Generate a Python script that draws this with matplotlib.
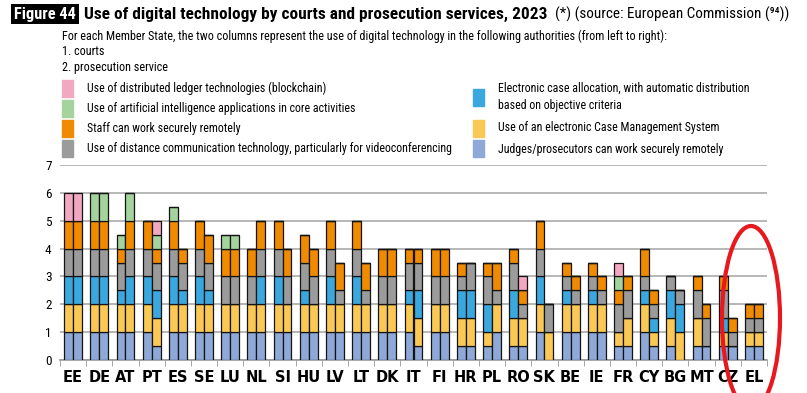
import numpy as np
import matplotlib.pyplot as plt
from matplotlib import font_manager
from matplotlib.patches import Rectangle, Ellipse

# 选一个窄一点的字体（参考图用的是窄体）
names = {f.name for f in font_manager.fontManager.ttflist}
NARROW = next((n for n in ['Roboto Condensed', 'Liberation Sans Narrow', 'DejaVu Sans Condensed',
                           'Open Sans Condensed', 'Roboto'] if n in names), 'DejaVu Sans')
plt.rcParams['font.family'] = [NARROW, 'DejaVu Sans']

# ============================================================
# 数据
# ============================================================
countries = ['EE', 'DE', 'AT', 'PT', 'ES', 'SE', 'LU', 'NL', 'SI', 'HU', 'LV', 'LT', 'DK', 'IT',
             'FI', 'HR', 'PL', 'RO', 'SK', 'BE', 'IE', 'FR', 'CY', 'BG', 'MT', 'CZ', 'EL']

# 1. courts
judges_c = [1, 1, 1, 1, 1, 1, 1, 1, 1, 1, 1, 1, 1, 1, 1, 0.5, 0.5, 0.5, 1, 1, 1, 0.5, 1, 0.5, 0.5, 0.5, 0.5]
cms_c = [1, 1, 1, 1, 1, 1, 1, 1, 1, 1, 1, 1, 1, 1, 1, 1, 0.5, 1, 1, 1, 1, 0.5, 1, 1, 1, 0.5, 0.5]
alloc_c = [1, 1, 0.5, 1, 1, 1, 0, 0, 1, 0.5, 1, 1, 0, 0.5, 0, 1, 1, 1, 1, 0.5, 0.5, 0, 0.5, 1, 0, 0.5, 0]
video_c = [1, 1, 1, 1, 1, 1, 1, 1, 1, 1, 1, 1, 1, 1, 1, 0.5, 1, 1, 1, 0.5, 0.5, 1, 0.5, 0.5, 1, 1, 0.5]
staff_c = [1, 1, 0.5, 1, 1, 1, 1, 1, 1, 1, 1, 1, 1, 0.5, 1, 0.5, 0.5, 0.5, 1, 0.5, 0.5, 0.5, 1, 0, 0.5, 0.5, 0.5]
ai_c = [0, 1, 0.5, 0, 0.5, 0, 0.5, 0, 0, 0, 0, 0, 0, 0, 0, 0, 0, 0, 0, 0, 0, 0.5, 0, 0, 0, 0, 0]
chain_c = [1, 0, 0, 0, 0, 0, 0, 0, 0, 0, 0, 0, 0, 0, 0, 0, 0, 0, 0, 0, 0, 0.5, 0, 0, 0, 0, 0]

# 2. prosecution service
judges_p = [1, 1, 1, 0.5, 1, 1, 1, 1, 1, 1, 1, 1, 1, 0.5, 1, 0.5, 1, 0.5, 0, 1, 1, 0.5, 0.5, 0, 0.5, 0.5, 0.5]
cms_p = [1, 1, 1, 1, 1, 1, 1, 1, 1, 1, 1, 1, 1, 1, 1, 1, 1, 1, 1, 1, 1, 1, 0.5, 1, 0, 0, 0.5]
alloc_p = [1, 1, 1, 1, 0.5, 0.5, 0, 1, 0, 0, 0, 0, 0, 1, 0, 1, 0, 0, 0, 0, 0, 0, 0.5, 1, 0, 0, 0]
video_p = [1, 1, 1, 1, 1, 1, 1, 1, 1, 1, 0.5, 0.5, 1, 1, 1, 1, 0.5, 0.5, 1, 0.5, 0.5, 1, 0.5, 0.5, 1, 0.5, 0.5]
staff_p = [1, 1, 1, 0.5, 0.5, 1, 1, 1, 1, 1, 1, 1, 1, 0.5, 1, 0, 1, 0.5, 0, 0.5, 0.5, 0.5, 0.5, 0, 0.5, 0.5, 0.5]
ai_p = [0, 1, 1, 0.5, 0, 0, 0.5, 0, 0, 0, 0, 0, 0, 0, 0, 0, 0, 0, 0, 0, 0, 0, 0, 0, 0, 0, 0]
chain_p = [1, 0, 0, 0.5, 0, 0, 0, 0, 0, 0, 0, 0, 0, 0, 0, 0, 0, 0.5, 0, 0, 0, 0, 0, 0, 0, 0, 0]

labels = ['Judges/prosecutors can work securely remotely',
          'Use of an electronic Case Management System',
          'Electronic case allocation, with automatic distribution\nbased on objective criteria',
          'Use of distance communication technology, particularly for videoconferencing',
          'Staff can work securely remotely',
          'Use of artificial intelligence applications in core activities',
          'Use of distributed ledger technologies (blockchain)']
colors = ['#8EA8D8', '#FAC854', '#3AA8DE', '#9B9B9B', '#F08A00', '#A5D39E', '#F3A8C2']

courts = [judges_c, cms_c, alloc_c, video_c, staff_c, ai_c, chain_c]
prosec = [judges_p, cms_p, alloc_p, video_p, staff_p, ai_p, chain_p]

# ============================================================
# 画图
# ============================================================
W, H = 807, 393
fig = plt.figure(figsize=(W / 100, H / 100), dpi=100)
ax = fig.add_axes([60 / W, 1 - 360 / H, 707 / W, 195 / H])

x = np.arange(len(countries))
bw = 0.34
for series, off in ((courts, -bw / 2), (prosec, bw / 2)):
    bottom = np.zeros(len(countries))
    for vals, col in zip(series, colors):
        v = np.array(vals, dtype=float)
        ax.bar(x + off, v, bw, bottom=bottom, color=col, edgecolor='#141414', linewidth=0.9, zorder=3)
        bottom += v

ax.set_xlim(-0.5, len(countries) - 0.5)
ax.set_ylim(0, 7)
ax.set_yticks(range(8))
ax.tick_params(axis='y', length=0, labelsize=9.5, pad=6)
ax.set_xticks(x)
ax.set_xticklabels(countries, fontsize=10.5, fontweight='bold', family=['DejaVu Sans'])
ax.set_xticks(np.arange(len(countries) + 1) - 0.5, minor=True)
ax.tick_params(axis='x', which='major', length=0, pad=7)
ax.tick_params(axis='x', which='minor', length=4, color='#999999')
ax.grid(axis='y', color='#AAAAAA', linewidth=1.2, zorder=0)
for s in ['top', 'right', 'left']:
    ax.spines[s].set_visible(False)
ax.spines['bottom'].set_color('#999999')
ax.spines['bottom'].set_linewidth(1.2)

# ============================================================
# 文字：按参考图的宽度缩放字号
# ============================================================
fig.canvas.draw()
r = fig.canvas.get_renderer()


def fit(t, width):
    w = t.get_window_extent(r).width
    t.set_fontsize(t.get_fontsize() * width / w)
    return t.get_fontsize()


t1 = fig.text(14 / W, 1 - 14 / H, 'Figure 44', color='white', fontsize=12, fontweight='bold',
              va='center', bbox=dict(facecolor='black', edgecolor='none', pad=2))
fit(t1, 62)
t2 = fig.text(84 / W, 1 - 14 / H, 'Use of digital technology by courts and prosecution services, 2023',
              fontsize=12, fontweight='bold', va='center')
fit(t2, 463)
t3 = fig.text(555 / W, 1 - 14 / H, '(*) (source: European Commission (⁹⁴))', fontsize=12, va='center')
fit(t3, 234)

sub = ['For each Member State, the two columns represent the use of digital technology in the '
       'following authorities (from left to right):', '1. courts', '2. prosecution service']
subs = [fig.text(62 / W, 1 - (36 + 15.5 * i) / H, s, fontsize=9, va='center') for i, s in enumerate(sub)]
fs = fit(subs[0], 603)
for t in subs[1:]:
    t.set_fontsize(fs)


# ============================================================
# 图例
# ============================================================
def legend_item(px, py, col, text):
    fig.patches.append(Rectangle((px / W, 1 - (py + 8.5) / H), 11 / W, 17 / H, color=col,
                                 transform=fig.transFigure, figure=fig))
    return fig.text((px + 25) / W, 1 - py / H, text, fontsize=9, va='center', linespacing=1.5)


leg = []
for i, k in enumerate([6, 5, 4, 3]):
    leg.append(legend_item(62, 88 + 20.3 * i, colors[k], labels[k]))
leg.append(legend_item(473, 97, colors[2], labels[2]))
leg.append(legend_item(473, 128, colors[1], labels[1]))
leg.append(legend_item(473, 149, colors[0], labels[0]))
fs = fit(leg[3], 366)
for t in leg:
    t.set_fontsize(fs)

# 红色圈注
fig.patches.append(Ellipse((751 / W, 1 - 318 / H), 58 / W, 184 / H, fill=False, edgecolor='#E8191E',
                           linewidth=3, transform=fig.transFigure, figure=fig))

plt.savefig('out.png', dpi=100)
plt.close()
